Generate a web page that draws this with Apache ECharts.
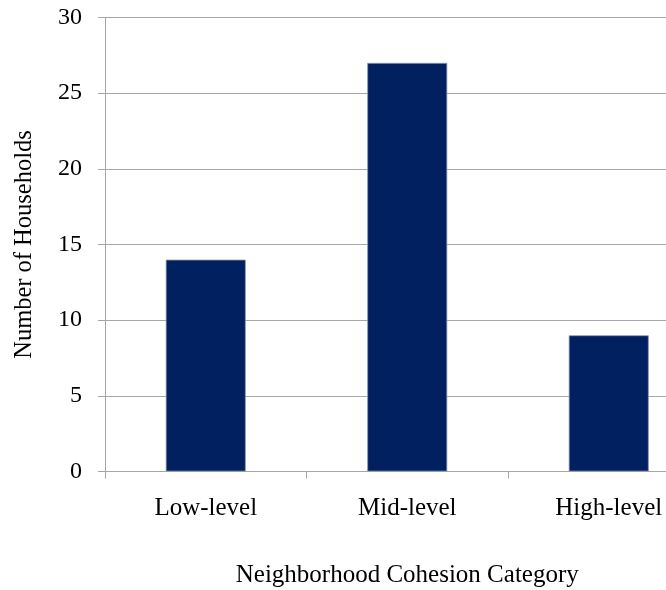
<!DOCTYPE html>
<html>
<head>
<meta charset="utf-8">
<script src="https://cdn.jsdelivr.net/npm/echarts@6/dist/echarts.min.js"></script>
<style>
  html, body { margin: 0; padding: 0; background: #ffffff; }
  #chart { width: 666px; height: 590px; }
</style>
</head>
<body>
<div id="chart"></div>
<script>
// Households by neighborhood cohesion level
const categories = ['Low-level', 'Mid-level', 'High-level'];
const households = [14, 27, 9];
const yTicks = { min: 0, max: 30, interval: 5 };

const FONT = '"Liberation Serif", "Times New Roman", serif';
const GRID_GRAY = '#a6a6a6';

const chart = echarts.init(document.getElementById('chart'), null, { renderer: 'canvas' });

chart.setOption({
  animation: false,
  backgroundColor: '#ffffff',
  // plot area runs past the right edge of the canvas
  grid: {
    left: 105, top: 17.5, width: 604.5, height: 454,
    containLabel: false,
    outerBoundsMode: 'none'
  },
  xAxis: {
    type: 'category',
    data: categories,
    name: 'Neighborhood Cohesion Category',
    nameLocation: 'middle',
    nameGap: 91,
    nameTextStyle: { fontFamily: FONT, fontSize: 25, color: '#000000' },
    axisLine: { lineStyle: { color: GRID_GRAY, width: 1 } },
    axisTick: { show: true, length: 7, lineStyle: { color: GRID_GRAY } },
    axisLabel: { fontFamily: FONT, fontSize: 25, color: '#000000', margin: 24 },
    splitLine: { show: false }
  },
  yAxis: {
    type: 'value',
    min: yTicks.min,
    max: yTicks.max,
    interval: yTicks.interval,
    name: 'Number of Households',
    nameLocation: 'middle',
    nameRotate: 90,
    nameGap: 68,
    nameTextStyle: { fontFamily: FONT, fontSize: 24.5, color: '#000000' },
    axisLine: { show: true, lineStyle: { color: GRID_GRAY, width: 1 } },
    axisTick: { show: true, length: 7, lineStyle: { color: GRID_GRAY } },
    axisLabel: { fontFamily: FONT, fontSize: 24, color: '#000000', margin: 23 },
    splitLine: { show: true, lineStyle: { color: GRID_GRAY, width: 1 } }
  },
  series: [{
    type: 'bar',
    data: households,
    barWidth: 80,
    itemStyle: { color: '#002060', borderColor: '#8d97b3', borderWidth: 0.8 }
  }]
});
</script>
</body>
</html>
